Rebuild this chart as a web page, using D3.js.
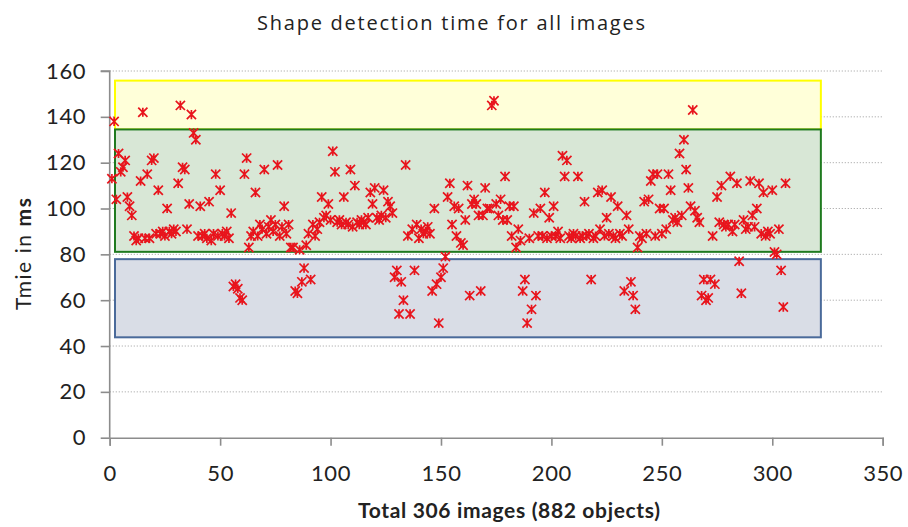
<!DOCTYPE html>
<html><head><meta charset="utf-8">
<script src="https://cdn.jsdelivr.net/npm/d3@7"></script>
<style>
html,body{margin:0;padding:0;background:#fff;}
svg{display:block;font-family:Lato,"Open Sans",sans-serif;}
</style></head>
<body>
<svg id="chart" width="908" height="527"></svg>
<script>
// ---- data ----
const title = "Shape detection time for all images";
const xLabel = "Total 306 images (882 objects)";
const xTicks = [0, 50, 100, 150, 200, 250, 300, 350];
const yTicks = [0, 20, 40, 60, 80, 100, 120, 140, 160];
// highlighted bands: [xStart, xEnd, yLow, yHigh]
const bandNames = ["slow", "normal", "fast"];
const bandX = [[2.4, 322], [2.4, 322], [2.4, 322]];
const bandY = [[134.5, 155.8], [81.1, 134.5], [43.8, 77.9]];
const bandFill = ["#ffffd9", "#d8e7d6", "#d9dde6"];
const bandStroke = ["#ffff00", "#1f7a1f", "#4a6a9a"];
// detection time (ms) per image, image 1..306
const times = [
 113,138,104,124,116,118,121,105,101,97,
 88,86,87,112,142,87,115,87,121,122,
 89,108,89,90,88,100,90,89,91,90,
 111,145,118,117,91,102,141,133,130,88,
 101,88,89,87,103,86,89,115,88,108,
 89,88,90,87,98,66,67,65,61,60,
 115,122,83,88,90,107,88,93,91,117,
 89,92,95,90,93,119,88,92,101,89,
 93,83,83,64,63,82,68,74,84,89,
 69,93,88,91,94,105,96,97,102,95,
 125,116,94,95,93,105,94,93,117,92,
 110,94,93,95,94,93,96,107,102,109,
 96,95,97,108,96,103,101,98,70,73,
 54,68,60,119,88,54,91,73,93,87,
 91,89,90,92,89,64,100,67,50,70,
 74,79,105,111,93,101,88,100,85,84,
 95,110,62,102,104,102,97,64,97,109,
 100,100,145,147,102,97,104,95,114,95,
 101,88,101,83,91,86,64,69,50,87,
 56,98,62,88,100,88,107,87,96,88,
 101,88,90,87,123,114,121,88,87,89,
 88,114,87,88,103,88,89,69,87,88,
 107,91,108,88,96,89,105,88,87,101,
 89,88,64,97,91,68,62,56,83,88,
 87,103,89,104,112,115,88,115,100,89,
 100,91,115,108,95,96,94,124,97,130,
 117,109,101,143,99,96,94,62,69,60,
 61,69,88,67,105,94,110,93,92,93,
 114,90,93,111,77,63,95,91,92,112,
 97,92,100,111,89,107,88,90,89,108,
 81,80,91,73,57,111
];
const images = times.map((_, i) => i + 1);

// ---- layout ----
const svg = d3.select("#chart");
const x0 = 109.7, x1 = 882.7, yBottom = 437.7, yTop = 71;
const x = d3.scaleLinear().domain([0, 350]).range([x0, x1]);
const y = d3.scaleLinear().domain([0, 160]).range([yBottom, yTop]);

// gridlines
svg.append("g").selectAll("line").data(yTicks.filter(d => d > 0)).join("line")
  .attr("x1", x0).attr("x2", x1)
  .attr("y1", d => y(d)).attr("y2", d => y(d))
  .attr("stroke", "#b4b4b4").attr("stroke-width", 1)
  .attr("stroke-dasharray", "1.3,1.7");

// bands
svg.append("g").selectAll("rect").data(bandNames).join("rect")
  .attr("x", (d, i) => x(bandX[i][0]))
  .attr("width", (d, i) => x(bandX[i][1]) - x(bandX[i][0]))
  .attr("y", (d, i) => y(bandY[i][1]))
  .attr("height", (d, i) => y(bandY[i][0]) - y(bandY[i][1]))
  .attr("fill", (d, i) => bandFill[i])
  .attr("stroke", (d, i) => bandStroke[i])
  .attr("stroke-width", 2);

// axes
const yAxis = d3.axisLeft(y).tickValues(yTicks).tickSize(9).tickPadding(14.5);
const gy = svg.append("g").attr("transform", `translate(${x0},0)`).call(yAxis);
const xAxis = d3.axisBottom(x).tickValues(xTicks).tickSize(8);
const gx = svg.append("g").attr("transform", `translate(0,${yBottom})`).call(xAxis);
[gx, gy].forEach(g => {
  g.select(".domain").attr("stroke", "#8c8c8c").attr("stroke-width", 1.6);
  g.selectAll(".tick line").attr("stroke", "#8c8c8c").attr("stroke-width", 1.6);
  g.selectAll(".tick text").attr("fill", "#222").attr("font-size", 22)
    .attr("letter-spacing", 0.6)
    .attr("font-family", "Lato, 'Open Sans', sans-serif");
});
gx.selectAll(".tick text").attr("dy", null).attr("y", 43.5);
gy.select(".domain").attr("d", `M-9,${yTop}H0V${yBottom}`);

// markers (star: X with vertical bar)
const s = 4.6;
const starPath = `M${-s},${-s}L${s},${s}M${-s},${s}L${s},${-s}M0,${-s}V${s}`;
svg.append("g").selectAll("path").data(images).join("path")
  .attr("transform", (d, i) => `translate(${x(d)},${y(times[i])})`)
  .attr("d", starPath)
  .attr("fill", "none")
  .attr("stroke", "#e8141c")
  .attr("stroke-width", 1.7);

// title
svg.append("text").attr("x", 451).attr("y", 30)
  .attr("text-anchor", "middle").attr("font-size", 20).attr("fill", "#222")
  .attr("font-family", "'Open Sans', Lato, sans-serif")
  .attr("textLength", 388).attr("lengthAdjust", "spacing")
  .text(title);

// x label
svg.append("text").attr("x", 509).attr("y", 518)
  .attr("text-anchor", "middle").attr("font-size", 21).attr("font-weight", "bold")
  .attr("textLength", 302).attr("lengthAdjust", "spacing")
  .attr("fill", "#222").text(xLabel);

// y label
const yl = svg.append("text").attr("transform", "translate(31,254) rotate(-90)")
  .attr("text-anchor", "middle").attr("font-size", 21).attr("fill", "#222")
  .attr("textLength", 112).attr("lengthAdjust", "spacing");
yl.append("tspan").text("Tmie in ");
yl.append("tspan").attr("font-weight", "bold").text("ms");
</script>
</body></html>
